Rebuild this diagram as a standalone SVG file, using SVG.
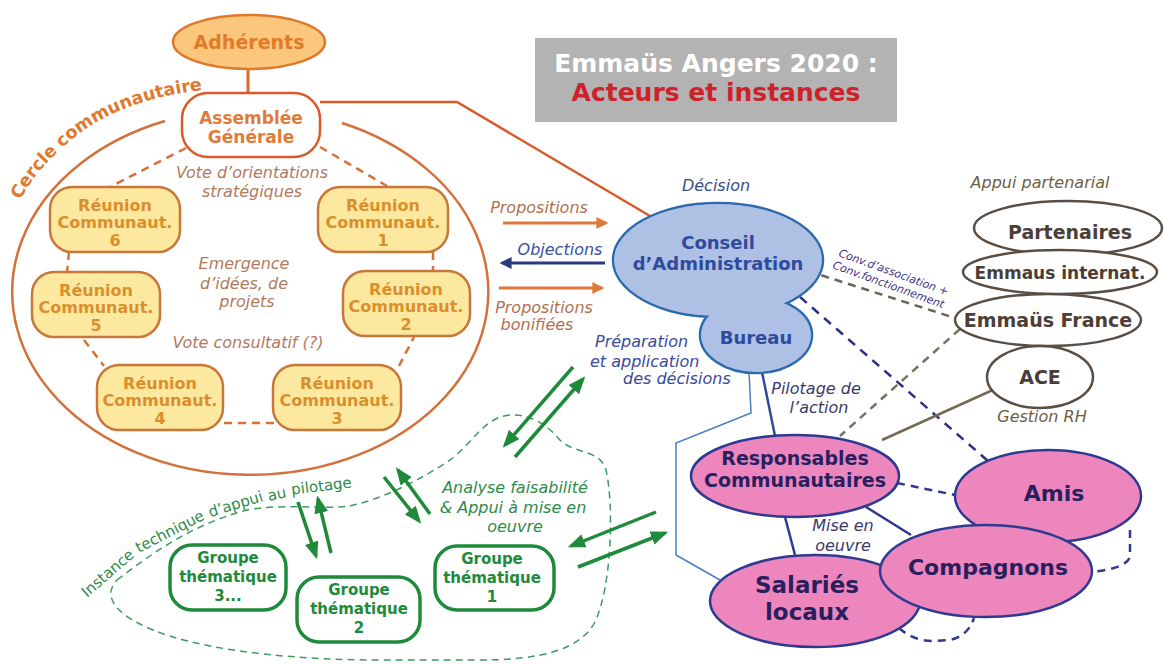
<svg xmlns="http://www.w3.org/2000/svg" width="1164" height="664" viewBox="0 0 1164 664">
<defs>
<style>
.b{font-family:"DejaVu Sans","Liberation Sans",sans-serif;font-weight:bold;text-anchor:middle}
.i{font-family:"DejaVu Sans","Liberation Sans",sans-serif;font-style:italic;text-anchor:middle;font-size:16px}
.it{font-family:"DejaVu Sans","Liberation Sans",sans-serif;font-size:15px;fill:#2E8B4A;text-anchor:middle}
.cc{font-family:"DejaVu Sans","Liberation Sans",sans-serif;font-weight:bold;font-size:17.5px;fill:#E07830}
.reu rect{fill:#FDE8A0;stroke:#C8773A;stroke-width:2.5}
.reu text{fill:#DA8F2C;font-size:16px}
.gt rect{fill:#fff;stroke:#1E8A3A;stroke-width:3.5}
.gt text{fill:#1E8A3A;font-size:15px}
.pink ellipse{fill:#EE86BE;stroke:#2E3A90;stroke-width:2.5}
.pink text{fill:#2A1F5E}
.part ellipse{fill:#fff;stroke:#5A4E44;stroke-width:2.5}
.part text{fill:#4A3E36}
.odash{fill:none;stroke:#D4703A;stroke-width:2.5;stroke-dasharray:8 6}
.garr{stroke:#1E8A3A;stroke-width:3.5;fill:none;marker-end:url(#mg)}
</style>
<marker id="mg" viewBox="0 0 10 8" refX="8" refY="4" markerWidth="5" markerHeight="4" orient="auto"><path d="M0,0 L10,4 L0,8 z" fill="#1E8A3A"/></marker>
<marker id="mo" viewBox="0 0 10 10" refX="8" refY="5" markerWidth="4.5" markerHeight="4" orient="auto"><path d="M0,0 L10,5 L0,10 z" fill="#E0783A"/></marker>
<marker id="mb" viewBox="0 0 10 10" refX="8" refY="5" markerWidth="4.5" markerHeight="4" orient="auto"><path d="M0,0 L10,5 L0,10 z" fill="#2A3A80"/></marker>
<path id="pc1" d="M 20 200 C 30 182, 42 166, 58 152" fill="none"/>
<path id="pc2" d="M 62 148 C 95 117, 140 96, 212 89" fill="none"/>
</defs>
<rect width="1164" height="664" fill="#fff"/>

<!-- Title -->
<g id="title">
<rect x="535" y="38" width="362" height="84" fill="#B3B3B3"/>
<text class="b" x="716" y="72" font-size="25" fill="#fff">Emmaüs Angers 2020 :</text>
<text class="b" x="716" y="101" font-size="25" fill="#CC2229">Acteurs et instances</text>
</g>

<!-- Cercle communautaire -->
<g id="cercle">
<path d="M 342 123 A 238 183 0 1 1 165 121" fill="none" stroke="#D4703A" stroke-width="2.5"/>
<text class="cc"><textPath href="#pc1">Cercle</textPath></text>
<text class="cc"><textPath href="#pc2">communautaire</textPath></text>
<text class="i" x="252" y="178" fill="#B07A5E">Vote d’orientations</text>
<text class="i" x="252" y="197" fill="#B07A5E">stratégiques</text>
<text class="i" x="244" y="269" fill="#B07A5E">Emergence</text>
<text class="i" x="244" y="289" fill="#B07A5E">d’idées, de</text>
<text class="i" x="247" y="307" fill="#B07A5E">projets</text>
<text class="i" x="248" y="348" fill="#B07A5E">Vote consultatif (?)</text>
</g>

<!-- Instance technique cloud -->
<g id="instance">
<path d="M 117 580 C 150 555, 190 525, 247 510 C 285 503, 325 510, 350 506 C 385 498, 420 480, 450 460 C 470 445, 480 425, 500 417 C 522 410, 545 422, 558 438 C 572 455, 600 448, 606 470 C 614 505, 612 585, 595 622 C 580 650, 540 660, 480 660 L 380 660 C 300 660, 220 652, 170 636 C 125 622, 98 600, 117 580 Z" fill="none" stroke="#3F9A5E" stroke-width="1.5" stroke-dasharray="7 5"/>
<text class="it" transform="translate(111,577) rotate(-41)">Instance</text>
<text class="it" transform="translate(172,536) rotate(-27)">technique</text>
<text class="it" transform="translate(237,509) rotate(-17)">d’appui</text>
<text class="it" transform="translate(278,499) rotate(-12)">au</text>
<text class="it" transform="translate(322,491) rotate(-7)">pilotage</text>
<text class="i" x="515" y="493" fill="#2E8B4A">Analyse faisabilité</text>
<text class="i" x="513" y="513" fill="#2E8B4A">&amp; Appui à mise en</text>
<text class="i" x="515" y="532" fill="#2E8B4A">oeuvre</text>
</g>

<!-- Connectors -->
<g id="connectors">
<line x1="248" y1="68" x2="248" y2="93" stroke="#D9692A" stroke-width="3"/>
<polyline points="320,102 457,102 650,216" fill="none" stroke="#D95A2B" stroke-width="2.5"/>
<line class="odash" x1="186" y1="148" x2="110" y2="187"/>
<line class="odash" x1="320" y1="147" x2="387" y2="186"/>
<line class="odash" x1="69" y1="252" x2="67" y2="272"/>
<line class="odash" x1="84" y1="340" x2="104" y2="366"/>
<line class="odash" x1="224" y1="423" x2="276" y2="423"/>
<line class="odash" x1="399" y1="366" x2="414" y2="337"/>
<line class="odash" x1="433" y1="252" x2="433" y2="270"/>
<line x1="503" y1="223" x2="606" y2="223" stroke="#E0783A" stroke-width="3" marker-end="url(#mo)"/>
<line x1="605" y1="263" x2="502" y2="263" stroke="#2A3A80" stroke-width="3" marker-end="url(#mb)"/>
<line x1="499" y1="288" x2="602" y2="288" stroke="#E0783A" stroke-width="3" marker-end="url(#mo)"/>
<line class="garr" x1="573" y1="367" x2="505" y2="445"/>
<line class="garr" x1="515" y1="457" x2="583" y2="379"/>
<line class="garr" x1="384" y1="477" x2="419" y2="521"/>
<line class="garr" x1="430" y1="514" x2="398" y2="470"/>
<line class="garr" x1="298" y1="502" x2="316" y2="556"/>
<line class="garr" x1="331" y1="553" x2="318" y2="499"/>
<line class="garr" x1="656" y1="512" x2="571" y2="546"/>
<line class="garr" x1="578" y1="567" x2="665" y2="533"/>
<polyline points="749,372 751,413 676,443 676,555 720,580" fill="none" stroke="#4A7EC0" stroke-width="1.5"/>
<line x1="762" y1="372" x2="775" y2="436" stroke="#2E4C9A" stroke-width="2.5"/>
<line x1="808" y1="271" x2="955" y2="318" stroke="#6A6656" stroke-width="2.5" stroke-dasharray="8 6"/>
<line x1="960" y1="329" x2="840" y2="436" stroke="#7A7060" stroke-width="2.5" stroke-dasharray="8 6"/>
<line x1="800" y1="297" x2="988" y2="461" stroke="#2B2F8A" stroke-width="2.5" stroke-dasharray="9 7"/>
<line x1="995" y1="389" x2="882" y2="440" stroke="#756B55" stroke-width="2.5"/>
<line x1="897" y1="483" x2="955" y2="495" stroke="#2E3A90" stroke-width="2.5" stroke-dasharray="8 6"/>
<line x1="866" y1="507" x2="911" y2="535" stroke="#2E3A90" stroke-width="2.5"/>
<line x1="785" y1="517" x2="795" y2="555" stroke="#2E3A90" stroke-width="2.5"/>
<path d="M 1130 530 L 1130 556 Q 1128 568 1092 572" fill="none" stroke="#2E3A90" stroke-width="2.5" stroke-dasharray="8 6"/>
<path d="M 899 628 Q 915 642 935 641 L 950 640 Q 968 636 974 618" fill="none" stroke="#2E3A90" stroke-width="2.5" stroke-dasharray="8 6"/>
</g>

<!-- connector labels -->
<g id="labels">
<text class="i" x="539" y="213" fill="#B07050">Propositions</text>
<text class="i" x="560" y="255" fill="#3A50A0">Objections</text>
<text class="i" x="544" y="313" fill="#B07050">Propositions</text>
<text class="i" x="537" y="330" fill="#B07050">bonifiées</text>
<text class="i" x="716" y="191" fill="#3A4A8A">Décision</text>
<text class="i" x="595" y="347" fill="#3A4A9A" style="text-anchor:start">Préparation</text>
<text class="i" x="590" y="367" fill="#3A4A9A" style="text-anchor:start">et application</text>
<text class="i" x="623" y="384" fill="#3A4A9A" style="text-anchor:start">des décisions</text>
<text class="i" x="816" y="394" fill="#3A3A6A">Pilotage de</text>
<text class="i" x="819" y="413" fill="#3A3A6A">l’action</text>
<text class="i" x="843" y="531" fill="#3A3A6A">Mise en</text>
<text class="i" x="843" y="551" fill="#3A3A6A">oeuvre</text>
<text class="i" x="1040" y="188" fill="#6E6040">Appui partenarial</text>
<text class="i" x="1042" y="422" fill="#6E6040">Gestion RH</text>
<text font-family="DejaVu Sans, Liberation Sans, sans-serif" font-style="italic" font-size="11" fill="#3C2F80" transform="translate(838,256) rotate(20)">Conv.d’association +</text>
<text font-family="DejaVu Sans, Liberation Sans, sans-serif" font-style="italic" font-size="11" fill="#3C2F80" transform="translate(832,268) rotate(20)">Conv.fonctionnement</text>
</g>

<!-- Nodes -->
<g id="adherents">
<ellipse cx="249" cy="42" rx="76" ry="27" fill="#FBC77C" stroke="#E0782A" stroke-width="2.5"/>
<text class="b" x="249" y="49" font-size="19" fill="#E07B2A">Adhérents</text>
</g>
<g id="ag">
<rect x="182" y="93" width="138" height="64" rx="26" fill="#fff" stroke="#D95A2B" stroke-width="2.5"/>
<text class="b" x="251" y="124" font-size="17" fill="#E07B3A">Assemblée</text>
<text class="b" x="251" y="143" font-size="17" fill="#E07B3A">Générale</text>
</g>
<g id="r1" class="reu"><rect x="318" y="187" width="130" height="65" rx="22"/><text class="b" x="383" y="211">Réunion</text><text class="b" x="383" y="228">Communaut.</text><text class="b" x="383" y="246">1</text></g>
<g id="r2" class="reu"><rect x="343" y="271" width="127" height="65" rx="22"/><text class="b" x="406" y="295">Réunion</text><text class="b" x="406" y="312">Communaut.</text><text class="b" x="406" y="330">2</text></g>
<g id="r3" class="reu"><rect x="273" y="365" width="128" height="65" rx="22"/><text class="b" x="337" y="389">Réunion</text><text class="b" x="337" y="406">Communaut.</text><text class="b" x="337" y="424">3</text></g>
<g id="r4" class="reu"><rect x="97" y="365" width="126" height="65" rx="22"/><text class="b" x="160" y="389">Réunion</text><text class="b" x="160" y="406">Communaut.</text><text class="b" x="160" y="424">4</text></g>
<g id="r5" class="reu"><rect x="32" y="272" width="128" height="65" rx="22"/><text class="b" x="96" y="296">Réunion</text><text class="b" x="96" y="313">Communaut.</text><text class="b" x="96" y="331">5</text></g>
<g id="r6" class="reu"><rect x="50" y="187" width="130" height="65" rx="22"/><text class="b" x="115" y="211">Réunion</text><text class="b" x="115" y="228">Communaut.</text><text class="b" x="115" y="246">6</text></g>

<g id="gt3" class="gt"><rect x="170" y="545" width="116" height="65" rx="22"/><text class="b" x="228" y="563">Groupe</text><text class="b" x="228" y="582">thématique</text><text class="b" x="228" y="601">3...</text></g>
<g id="gt2" class="gt"><rect x="297" y="577" width="123" height="65" rx="22"/><text class="b" x="359" y="595">Groupe</text><text class="b" x="359" y="614">thématique</text><text class="b" x="359" y="633">2</text></g>
<g id="gt1" class="gt"><rect x="435" y="546" width="119" height="64" rx="22"/><text class="b" x="492" y="564">Groupe</text><text class="b" x="492" y="583">thématique</text><text class="b" x="492" y="602">1</text></g>

<g id="conseil">
<ellipse cx="718" cy="260" rx="105" ry="57" fill="#AEC0E4" stroke="#2C6AAE" stroke-width="2.5"/>
<ellipse cx="756" cy="335" rx="56" ry="38" fill="#AEC0E4" stroke="#2C6AAE" stroke-width="2.5"/>
<ellipse cx="718" cy="260" rx="103.8" ry="55.8" fill="#AEC0E4"/>
<ellipse cx="756" cy="335" rx="54.8" ry="36.8" fill="#AEC0E4"/>
<text class="b" x="718" y="249" font-size="18" fill="#2E4B9E">Conseil</text>
<text class="b" x="718" y="270" font-size="18" fill="#2E4B9E">d’Administration</text>
<text class="b" x="756" y="344" font-size="18" fill="#2E4B9E">Bureau</text>
</g>

<g id="partenaires" class="part"><ellipse cx="1068" cy="228" rx="94" ry="27"/><text class="b" x="1070" y="239" font-size="19">Partenaires</text></g>
<g id="emmaus-internat" class="part"><ellipse cx="1060" cy="272" rx="97" ry="22"/><text class="b" x="1060" y="279" font-size="17">Emmaus internat.</text></g>
<g id="emmaus-france" class="part"><ellipse cx="1048" cy="320" rx="93" ry="26"/><text class="b" x="1048" y="327" font-size="19">Emmaüs France</text></g>
<g id="ace" class="part"><ellipse cx="1040" cy="377" rx="53" ry="31"/><text class="b" x="1040" y="384" font-size="19">ACE</text></g>

<g id="responsables" class="pink"><ellipse cx="795" cy="476" rx="104" ry="41"/><text class="b" x="795" y="465" font-size="19">Responsables</text><text class="b" x="795" y="487" font-size="19">Communautaires</text></g>
<g id="amis" class="pink"><ellipse cx="1048" cy="496" rx="93" ry="46"/><text class="b" x="1054" y="501" font-size="22">Amis</text></g>
<g id="salaries" class="pink"><ellipse cx="815" cy="601" rx="105" ry="46"/><text class="b" x="807" y="593" font-size="23">Salariés</text><text class="b" x="807" y="620" font-size="23">locaux</text></g>
<g id="compagnons" class="pink"><ellipse cx="986" cy="571" rx="106" ry="46"/><text class="b" x="988" y="575" font-size="22">Compagnons</text></g>
</svg>
